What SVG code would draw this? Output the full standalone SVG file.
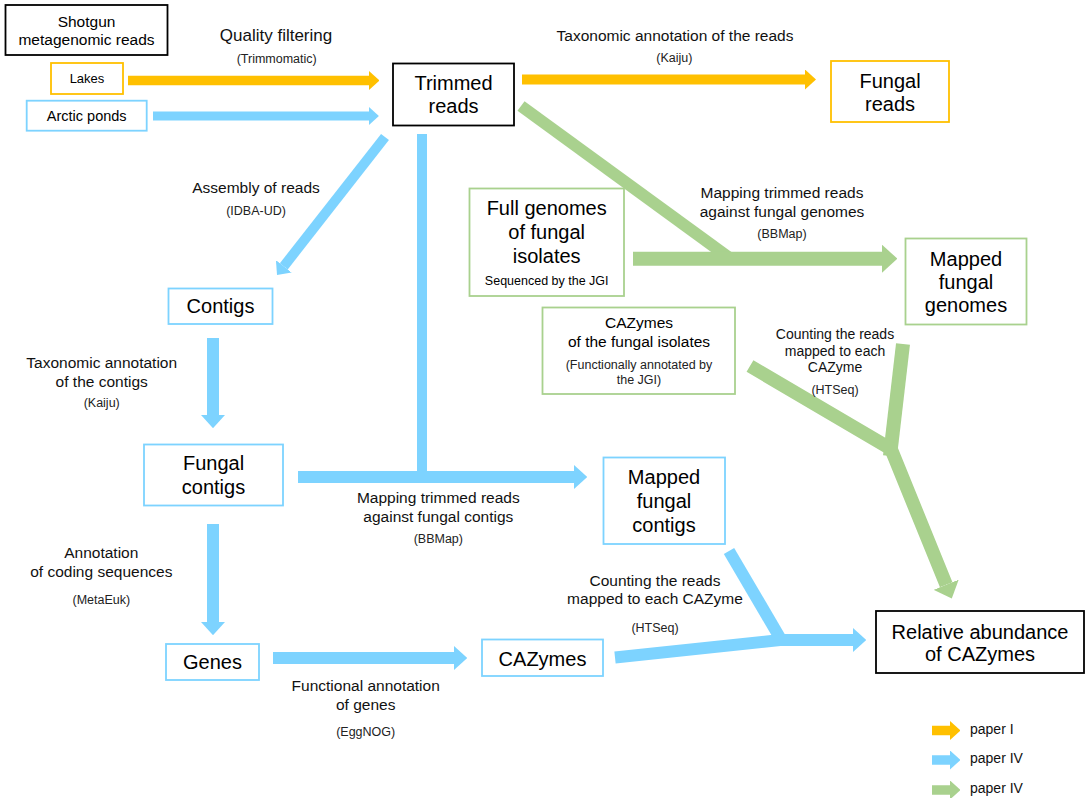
<svg xmlns="http://www.w3.org/2000/svg" width="1087" height="798" viewBox="0 0 1087 798">
<style>
text{font-family:"Liberation Sans",Arial,sans-serif;fill:#000;text-anchor:middle}
.n{font-size:20px}
.l{font-size:15.5px;fill:#111}
.p{font-size:12.5px;fill:#222}
.g{font-size:14px;text-anchor:start;fill:#111}
.bk{fill:#fff;stroke:#000;stroke-width:1.8}
.bo{fill:#fff;stroke:#FFC000;stroke-width:1.8}
.bb{fill:#fff;stroke:#7DD3FF;stroke-width:1.8}
.bg{fill:#fff;stroke:#A9D18E;stroke-width:1.8}
.co{stroke:#FFC000;fill:none}
.cb{stroke:#7DD3FF;fill:none}
.cg{stroke:#A9D18E;fill:none}
</style>
<defs>
<marker id="ao" viewBox="0 -1 1.1 2" markerWidth="1.1" markerHeight="2" refX="0" refY="0" orient="auto" markerUnits="strokeWidth"><path d="M0,-1L1.1,0L0,1z" fill="#FFC000"/></marker>
<marker id="ab" viewBox="0 -1 1.1 2" markerWidth="1.1" markerHeight="2" refX="0" refY="0" orient="auto" markerUnits="strokeWidth"><path d="M0,-1L1.1,0L0,1z" fill="#7DD3FF"/></marker>
<marker id="ag" viewBox="0 -1 1.1 2" markerWidth="1.1" markerHeight="2" refX="0" refY="0" orient="auto" markerUnits="strokeWidth"><path d="M0,-1L1.1,0L0,1z" fill="#A9D18E"/></marker>
</defs>
<rect width="1087" height="798" fill="#fff"/>

<g id="connectors">
<line class="co" x1="128" y1="80.5" x2="369" y2="80.5" stroke-width="9.5" marker-end="url(#ao)"/>
<line class="co" x1="522" y1="79.5" x2="805" y2="79.5" stroke-width="10" marker-end="url(#ao)"/>
<line class="cb" x1="153" y1="116" x2="369" y2="116" stroke-width="9" marker-end="url(#ab)"/>
<line class="cb" x1="385" y1="137" x2="283.8" y2="266.3" stroke-width="10" marker-end="url(#ab)"/>
<line class="cb" x1="422" y1="134" x2="422" y2="479" stroke-width="10"/>
<line class="cb" x1="298" y1="477" x2="574" y2="477" stroke-width="12" marker-end="url(#ab)"/>
<line class="cb" x1="213" y1="338" x2="213" y2="415" stroke-width="12" marker-end="url(#ab)"/>
<line class="cb" x1="213" y1="524" x2="213" y2="622" stroke-width="12" marker-end="url(#ab)"/>
<line class="cb" x1="273" y1="658" x2="454" y2="658" stroke-width="12" marker-end="url(#ab)"/>
<line class="cb" x1="729" y1="551" x2="783" y2="643" stroke-width="12"/>
<polyline class="cb" points="615,657.5 780,640 853,640" stroke-width="12" marker-end="url(#ab)"/>
<line class="cg" x1="521" y1="106" x2="731" y2="259" stroke-width="12"/>
<line class="cg" x1="633" y1="258.7" x2="882" y2="258.7" stroke-width="14" marker-end="url(#ag)"/>
<line class="cg" x1="903" y1="344" x2="890" y2="456" stroke-width="14"/>
<polyline class="cg" points="750,366 891,449 946.2,584.7" stroke-width="13.5" marker-end="url(#ag)"/>
<line class="co" x1="932" y1="730.5" x2="950" y2="730.5" stroke-width="9.5" marker-end="url(#ao)"/>
<line class="cb" x1="932" y1="760" x2="950" y2="760" stroke-width="9.5" marker-end="url(#ab)"/>
<line class="cg" x1="932" y1="790" x2="950" y2="790" stroke-width="9.5" marker-end="url(#ag)"/>
</g>

<g id="labels">
<text x="276" y="40.7" style="font-size:17px;fill:#111">Quality filtering</text>
<text class="p" x="276.7" y="63.3">(Trimmomatic)</text>
<text class="l" x="675" y="40.7">Taxonomic annotation of the reads</text>
<text class="p" x="674.3" y="62.3">(Kaiju)</text>
<text class="l" x="256" y="193.3">Assembly of reads</text>
<text class="p" x="256" y="215">(IDBA-UD)</text>
<text class="l" x="782" y="198.3">Mapping trimmed reads</text>
<text class="l" x="782" y="217.3">against fungal genomes</text>
<text class="p" x="782" y="238">(BBMap)</text>
<text class="l" x="101.7" y="367.7">Taxonomic annotation</text>
<text class="l" x="101.7" y="386.7">of the contigs</text>
<text class="p" x="101.7" y="406.7">(Kaiju)</text>
<text x="835" y="339" style="font-size:14px;fill:#111">Counting the reads</text>
<text x="835" y="355.5" style="font-size:14px;fill:#111">mapped to each</text>
<text x="835" y="371.5" style="font-size:14px;fill:#111">CAZyme</text>
<text class="p" x="835" y="394">(HTSeq)</text>
<text class="l" x="438.3" y="503.3">Mapping trimmed reads</text>
<text class="l" x="438.3" y="521.7">against fungal contigs</text>
<text class="p" x="438.3" y="543.3">(BBMap)</text>
<text class="l" x="101.3" y="557.7">Annotation</text>
<text class="l" x="101.3" y="576.7">of coding sequences</text>
<text class="p" x="101.3" y="604">(MetaEuk)</text>
<text class="l" x="655" y="585.5">Counting the reads</text>
<text class="l" x="655" y="604">mapped to each CAZyme</text>
<text class="p" x="655" y="631.5">(HTSeq)</text>
<text class="l" x="365.7" y="690.7">Functional annotation</text>
<text class="l" x="365.7" y="710">of genes</text>
<text class="p" x="365.7" y="735.7">(EggNOG)</text>
<text class="g" x="970" y="734.3">paper I</text>
<text class="g" x="970" y="763.3">paper IV</text>
<text class="g" x="970" y="793.3">paper IV</text>
</g>

<g id="shotgun"><rect class="bk" x="5.5" y="5" width="162" height="50"/><text x="86.5" y="26.5" style="font-size:15.5px">Shotgun</text><text x="86.5" y="45" style="font-size:15.5px">metagenomic reads</text></g>
<g id="lakes"><rect class="bo" x="51" y="63" width="72" height="31"/><text x="87" y="82.7" style="font-size:13px">Lakes</text></g>
<g id="arctic"><rect class="bb" x="26.7" y="100.7" width="120" height="30"/><text x="86.7" y="121" style="font-size:14.5px">Arctic ponds</text></g>
<g id="trimmed"><rect class="bk" x="393" y="63.5" width="121" height="62"/><text class="n" x="453.5" y="90">Trimmed</text><text class="n" x="453.5" y="113">reads</text></g>
<g id="fungal-reads"><rect class="bo" x="831" y="61" width="118" height="61"/><text class="n" x="890" y="88">Fungal</text><text class="n" x="890" y="110.5">reads</text></g>
<g id="full-genomes"><rect class="bg" x="469.5" y="188.5" width="154.5" height="107.5"/><text class="n" x="546.7" y="215">Full genomes</text><text class="n" x="546.7" y="238.5">of fungal</text><text class="n" x="546.7" y="263">isolates</text><text x="546.7" y="285" style="font-size:12.5px">Sequenced by the JGI</text></g>
<g id="mapped-genomes"><rect class="bg" x="905.5" y="238.5" width="121" height="86"/><text class="n" x="966" y="265.5">Mapped</text><text class="n" x="966" y="288.5">fungal</text><text class="n" x="966" y="312">genomes</text></g>
<g id="cazymes-isolates"><rect class="bg" x="542.5" y="307.5" width="192.5" height="86.5"/><text x="639" y="328.3" style="font-size:15.5px">CAZymes</text><text x="639" y="347.3" style="font-size:15.5px">of the fungal isolates</text><text class="p" x="639" y="369">(Functionally annotated by</text><text class="p" x="639" y="384">the JGI)</text></g>
<g id="contigs"><rect class="bb" x="168.5" y="288.5" width="104" height="35.5"/><text class="n" x="220.5" y="313.3">Contigs</text></g>
<g id="fungal-contigs"><rect class="bb" x="144" y="444.5" width="139" height="61"/><text class="n" x="213.5" y="470">Fungal</text><text class="n" x="213.5" y="493.5">contigs</text></g>
<g id="mapped-contigs"><rect class="bb" x="603.5" y="457.5" width="121.5" height="86.5"/><text class="n" x="664" y="484.3">Mapped</text><text class="n" x="664" y="508.3">fungal</text><text class="n" x="664" y="531.7">contigs</text></g>
<g id="genes"><rect class="bb" x="166" y="644" width="93" height="36"/><text class="n" x="212.5" y="669">Genes</text></g>
<g id="cazymes"><rect class="bb" x="482" y="639.5" width="121" height="36.5"/><text class="n" x="542.5" y="666">CAZymes</text></g>
<g id="relative"><rect class="bk" x="876" y="611" width="208" height="62"/><text class="n" x="980" y="638.5">Relative abundance</text><text class="n" x="980" y="661">of CAZymes</text></g>
</svg>
